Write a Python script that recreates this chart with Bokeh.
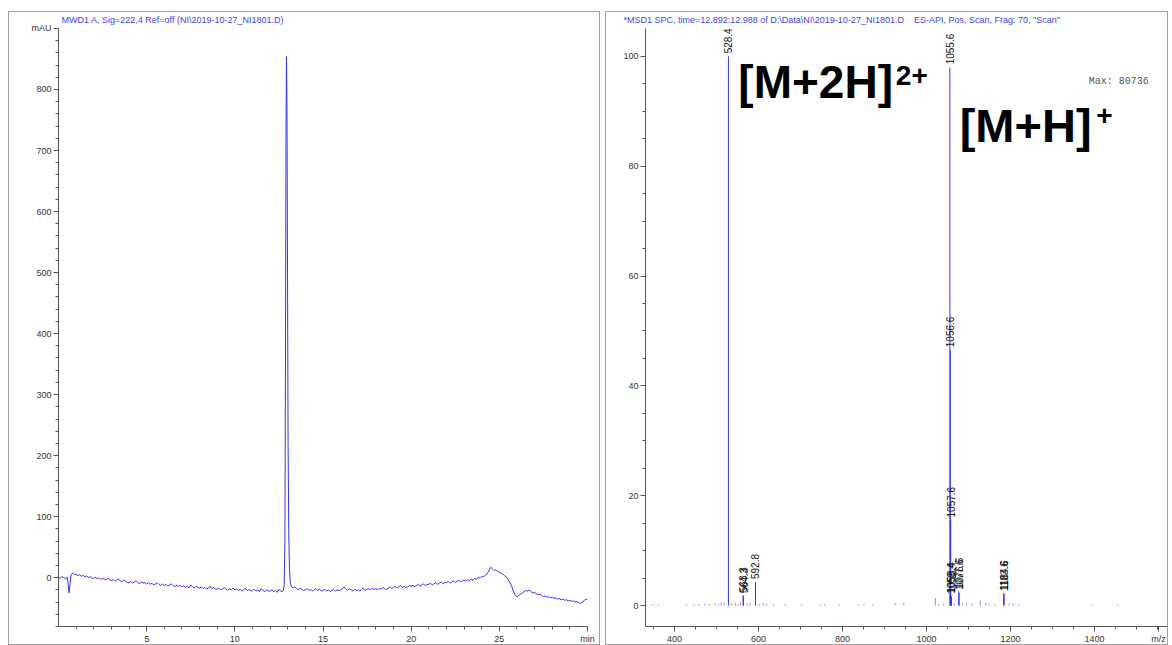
import math
from bokeh.plotting import figure
from bokeh.layouts import row
from bokeh.models import Range1d, FixedTicker, Label, ColumnDataSource
from bokeh.core.properties import value
from bokeh.embed import file_html
from bokeh.resources import INLINE

# ---------------- data: chromatogram (UV 222 nm) ----------------
uv_rows_before = [
    [1, -1, 2, 0, -2, 1, -25, 3, 8, 5],
    [6, 3, 5, 2, 4, 1, 3, 0, 2, -1],
    [-1, 1, -2, 0, -3, -1, -2, -4, -1, -3],
    [-5, -3, -6, -4, -2, -5, -7, -4, -6, -8],
    [-8, -6, -9, -7, -5, -8, -10, -7, -9, -8],
    [-10, -8, -11, -9, -12, -10, -8, -11, -13, -10],
    [-13, -11, -14, -12, -10, -13, -15, -12, -14, -13],
    [-15, -13, -16, -14, -17, -12, -15, -17, -14, -16],
    [-17, -15, -18, -16, -19, -17, -14, -18, -16, -19],
    [-19, -17, -20, -18, -16, -19, -21, -18, -20, -17],
    [-20, -18, -21, -19, -22, -20, -17, -21, -19, -22],
    [-21, -19, -22, -20, -23, -18, -21, -23, -20, -22],
    [-22, -20, -23, -21, -24, -19, -22, -23],
]
peak_times = [12.75, 12.80, 12.84, 12.87, 12.90, 12.93, 12.96, 12.99, 13.02, 13.06, 13.10, 13.15, 13.20, 13.25]
peak_vals = [-20, -12, 60, 330, 720, 854, 760, 480, 220, 70, 12, -8, -14, -15]
uv_after_start = 13.3
uv_rows_after = [
    [-17, -15, -18, -20, -17, -19, -21],
    [-20, -18, -21, -19, -22, -20, -18, -21, -19, -22],
    [-21, -19, -22, -20, -23, -21, -19, -22, -20, -21],
    [-20, -18, -15, -19, -21, -18, -20, -22, -19, -21],
    [-20, -22, -19, -17, -21, -19, -18, -20, -17, -19],
    [-18, -20, -17, -19, -16, -18, -20, -17, -15, -18],
    [-16, -14, -17, -15, -13, -16, -14, -17, -15, -13],
    [-14, -12, -15, -13, -11, -14, -12, -10, -13, -11],
    [-11, -9, -12, -10, -8, -11, -9, -7, -10, -8],
    [-8, -6, -9, -7, -5, -8, -6, -4, -7, -5],
    [-4, -6, -3, -5, -2, -4, -1, -3, 1, -1],
    [2, 1, 4, 6, 11, 17, 15, 12, 13, 10],
    [9, 7, 6, 3, 1, -3, -8, -14, -22, -29],
    [-31, -29, -27, -25, -23, -21, -22, -20, -23, -25],
    [-24, -26, -28, -27, -29, -31, -30, -32, -31, -33],
    [-32, -34, -33, -35, -34, -36, -35, -37, -36, -38],
    [-37, -39, -38, -40, -39, -41, -42, -40, -38, -35],
    [-36],
]

uv_x_ticks = [5, 10, 15, 20, 25, 30]
uv_x_tick_labels = {30: "min"}
uv_y_ticks = [0, 100, 200, 300, 400, 500, 600, 700, 800, 900]
uv_y_tick_labels = {900: "mAU"}

# ---------------- data: mass spectrum ----------------
ms_label_mz = [528.4, 563.3, 564.3, 592.8, 1055.6, 1056.6, 1057.6, 1058.4, 1059.4, 1076.6, 1077.6, 1183.6, 1184.6]
ms_label_int = [100.0, 1.9, 1.7, 4.3, 98.0, 46.5, 15.5, 1.8, 1.6, 2.6, 2.3, 2.1, 2.3]
ms_label_text = ["528.4", "563.3", "564.3", "592.8", "1055.6", "1056.6", "1057.6", "1058.4", "1059.4", "1076.6", "1077.6", "1183.6", "1184.6"]

ms_noise_mz = [345, 352, 362, 428, 447, 458, 472, 483, 497, 505, 511, 518, 536, 545, 551, 557, 573, 580,
               602, 611, 619, 636, 664, 703, 748, 757, 792, 837, 851, 872, 925, 946, 1021, 1029, 1041,
               1066, 1086, 1095, 1108, 1128, 1141, 1149, 1163, 1197, 1206, 1219, 1392, 1455]
ms_noise_int = [0.2, 0.15, 0.2, 0.3, 0.25, 0.3, 0.35, 0.3, 0.4, 0.3, 0.6, 0.5, 0.4, 0.5, 0.3, 0.6, 0.4, 0.5,
                0.3, 0.35, 0.3, 0.3, 0.3, 0.3, 0.25, 0.3, 0.25, 0.3, 0.35, 0.25, 0.45, 0.5, 1.4, 0.3, 0.4,
                0.4, 0.3, 0.5, 0.4, 1.0, 0.5, 0.3, 0.3, 0.4, 0.35, 0.3, 0.2, 0.2]

ms_x_ticks = [400, 600, 800, 1000, 1200, 1400, 1552]
ms_x_tick_labels = {1552: "m/z"}
ms_y_ticks = [0, 20, 40, 60, 80, 100]

uv_title = "MWD1 A, Sig=222,4 Ref=off (NI\\2019-10-27_NI1801.D)"
ms_title = ("*MSD1 SPC, time=12.892:12.988 of D:\\Data\\NI\\2019-10-27_NI1801.D\u00a0\u00a0\u00a0\u00a0"
            "ES-API, Pos, Scan, Frag: 70, \"Scan\"")
max_text = "Max: 80736"

# ---------------- assemble series ----------------
uv_t, uv_v = [], []
for r, vals in enumerate(uv_rows_before):
    for i, v in enumerate(vals):
        uv_t.append(round(r + 0.1 * i, 2))
        uv_v.append(v)
uv_t += peak_times
uv_v += peak_vals
for r, vals in enumerate(uv_rows_after):
    for i, v in enumerate(vals):
        base = uv_after_start if r == 0 else 13 + r
        uv_t.append(round(base + 0.1 * i, 2))
        uv_v.append(v)

BLUE = "#3434f6"
TITLE_BLUE = "#3a46e6"
FONT = "Liberation Sans"


def style_axes(p, ybounds):
    for ax in (p.xaxis[0], p.yaxis[0]):
        ax.axis_line_color = "#555555"
        ax.major_tick_line_color = "#555555"
        ax.minor_tick_line_color = "#555555"
        ax.major_tick_out = 5
        ax.major_tick_in = 0
        ax.minor_tick_out = 3
        ax.minor_tick_in = 0
        ax.major_label_text_font = FONT
        ax.major_label_text_font_size = "9px"
        ax.major_label_text_color = "#333333"
        ax.major_label_standoff = 2
    p.yaxis[0].bounds = ybounds
    p.grid.visible = False
    p.outline_line_color = None


def style_title(p, text, offset):
    p.title.text = text
    p.title.text_font = FONT
    p.title.text_font_size = "9px"
    p.title.text_font_style = "normal"
    p.title.text_color = TITLE_BLUE
    p.title.offset = offset
    p.title.standoff = 0


# ---------------- left: chromatogram ----------------
left = figure(width=592, height=634, output_backend="svg", toolbar_location=None,
              x_range=Range1d(0, 30), y_range=Range1d(-80, 906.5),
              min_border_left=49, min_border_right=14, min_border_top=0, min_border_bottom=10,
              margin=(11, 0, 0, 8), styles={"border": "1px solid #a0a0a0"})
left.line(uv_t, uv_v, line_color=BLUE, line_width=1)
style_axes(left, (-80, 900))
left.xaxis[0].ticker = FixedTicker(ticks=uv_x_ticks, minor_ticks=list(range(1, 30)))
left.xaxis[0].major_label_overrides = uv_x_tick_labels
left.yaxis[0].ticker = FixedTicker(ticks=uv_y_ticks, minor_ticks=list(range(-80, 900, 20)))
left.yaxis[0].major_label_overrides = uv_y_tick_labels
style_title(left, uv_title, 3)

# ---------------- right: mass spectrum ----------------
right = figure(width=563, height=634, output_backend="svg", toolbar_location=None,
               x_range=Range1d(331, 1576), y_range=Range1d(-3.8, 105.8),
               min_border_left=39, min_border_right=1, min_border_top=0, min_border_bottom=10,
               margin=(11, 0, 0, 5), styles={"border": "1px solid #a0a0a0"})
right.segment(x0=ms_noise_mz, y0=[0] * len(ms_noise_mz), x1=ms_noise_mz, y1=ms_noise_int,
              line_color=BLUE, line_width=1, line_alpha=0.55)
right.segment(x0=ms_label_mz, y0=[0] * len(ms_label_mz), x1=ms_label_mz, y1=ms_label_int,
              line_color=BLUE, line_width=1)
lab_src = ColumnDataSource(dict(x=ms_label_mz, y=ms_label_int, t=ms_label_text))
right.text(x="x", y="y", text="t", source=lab_src, angle=math.pi / 2,
           text_align="left", text_baseline="middle", y_offset=-3,
           text_font=value(FONT), text_font_size="10px", text_color="#111111")
style_axes(right, (-3.8, 105.1))
right.xaxis[0].ticker = FixedTicker(ticks=ms_x_ticks, minor_ticks=list(range(350, 1551, 50)))
right.xaxis[0].major_label_overrides = ms_x_tick_labels
right.yaxis[0].ticker = FixedTicker(ticks=ms_y_ticks, minor_ticks=list(range(0, 105, 5)))
style_title(right, ms_title, -22)

big = dict(text_font=FONT, text_font_style="bold", text_color="black", text_baseline="alphabetic")
right.add_layout(Label(x=552, y=95.3, text="[M+2H]", text_font_size="46px", **big))
right.add_layout(Label(x=927, y=96.5, text="2+", text_font_size="28px", **big))
right.add_layout(Label(x=1079, y=87.4, text="[M+H]", text_font_size="47px", **big))
right.add_layout(Label(x=1404, y=89.3, text="+", text_font_size="28px", **big))
right.add_layout(Label(x=1386, y=95.5, text=max_text, text_font="Liberation Mono",
                       text_font_size="10px", text_color="#555555", text_baseline="middle"))

layout = row(left, right, spacing=0)
open("out.html", "w").write(file_html(layout, INLINE))
